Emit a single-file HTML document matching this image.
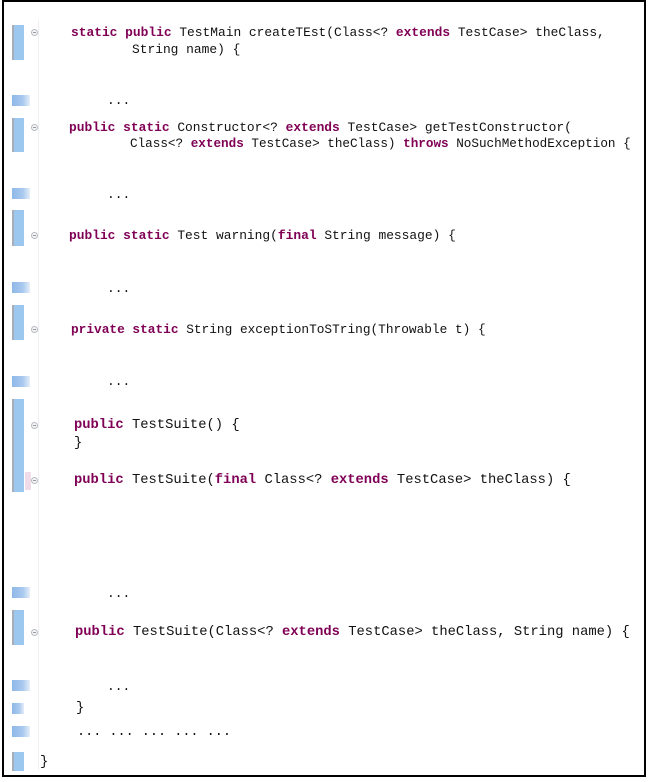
<!DOCTYPE html>
<html><head><meta charset="utf-8"><style>
html,body{margin:0;padding:0;background:#fff;}
body{width:651px;height:782px;position:relative;overflow:hidden;}
.frame{position:absolute;left:2px;top:0px;width:640px;height:773px;border:2px solid #000;box-sizing:content-box;border-width:2px;}
.t{position:absolute;font-family:"Liberation Mono",monospace;font-size:12.9px;line-height:16px;color:#111;white-space:pre;}
.b{font-size:13.8px;}
.k{color:#7f0055;font-weight:bold;}
.bar{position:absolute;left:12px;width:12px;background:#9cc8f0;border-left:2px solid #a8aeb8;box-sizing:border-box;}
.sm{position:absolute;left:12px;width:18px;height:11px;background:linear-gradient(90deg,#8fb8e8 0,#a9c9ef 60%,#e6eef8 100%);}
.fold{position:absolute;left:31px;width:7px;height:7px;border:1px solid #b8bcc4;border-radius:50%;box-sizing:border-box;background:#f4f5f7;}
.fold:after{content:"";position:absolute;left:1px;top:2px;width:3px;height:1px;background:#999;}
.gl{position:absolute;left:38px;top:20px;width:1px;height:750px;background:#f0f0f0;}
</style></head><body>
<div class="frame"></div>
<div class="gl"></div>

<div class="bar" style="top:25px;height:35px"></div><div class="fold" style="top:29px"></div>
<div class="sm" style="top:95px"></div>
<div class="bar" style="top:118px;height:34px"></div><div class="fold" style="top:124px"></div>
<div class="sm" style="top:188px"></div>
<div class="bar" style="top:210px;height:36px"></div><div class="fold" style="top:232px"></div>
<div class="sm" style="top:282px"></div>
<div class="bar" style="top:305px;height:35px"></div><div class="fold" style="top:326px"></div>
<div class="sm" style="top:376px"></div>
<div class="bar" style="top:399px;height:93px"></div>
<div style="position:absolute;left:25px;top:472px;width:6px;height:18px;background:#f0dce8"></div>
<div class="fold" style="top:422px"></div><div class="fold" style="top:477px"></div>
<div class="sm" style="top:587px"></div>
<div class="bar" style="top:610px;height:35px"></div><div class="fold" style="top:629px"></div>
<div class="sm" style="top:680px"></div>
<div class="sm" style="top:703px;width:12px"></div>
<div class="sm" style="top:726px"></div>
<div class="bar" style="top:752px;height:19px"></div>

<div class="t" style="left:71px;top:25px"><span class="k">static public</span> TestMain createTEst(Class&lt;? <span class="k">extends</span> TestCase&gt; theClass,</div>
<div class="t" style="left:132px;top:42px">String name) {</div>
<div class="t" style="left:107px;top:93px">...</div>
<div class="t" style="left:69px;top:120px"><span class="k">public static</span> Constructor&lt;? <span class="k">extends</span> TestCase&gt; getTestConstructor(</div>
<div class="t" style="left:130px;top:136px;font-size:12.65px"><span>Class&lt;? </span><span class="k">extends</span> TestCase&gt; theClass) <span class="k">throws</span> NoSuchMethodException {</div>
<div class="t" style="left:107px;top:187px">...</div>
<div class="t" style="left:69px;top:228px"><span class="k">public static</span> Test warning(<span class="k">final</span> String message) {</div>
<div class="t" style="left:107px;top:281px">...</div>
<div class="t" style="left:71px;top:322px;font-size:12.8px"><span class="k">private static</span> String exceptionToSTring(Throwable t) {</div>
<div class="t" style="left:107px;top:374px">...</div>
<div class="t b" style="left:74px;top:418px"><span class="k">public</span> TestSuite() {</div>
<div class="t b" style="left:74px;top:436px">}</div>
<div class="t b" style="left:74px;top:473px"><span class="k">public</span> TestSuite(<span class="k">final</span> Class&lt;? <span class="k">extends</span> TestCase&gt; theClass) {</div>
<div class="t" style="left:107px;top:586px">...</div>
<div class="t b" style="left:75px;top:625px"><span class="k">public</span> TestSuite(Class&lt;? <span class="k">extends</span> TestCase&gt; theClass, String name) {</div>
<div class="t" style="left:107px;top:679px">...</div>
<div class="t b" style="left:76px;top:701px">}</div>
<div class="t" style="left:77px;top:725px;font-size:13.5px">... ... ... ... ...</div>
<div class="t b" style="left:40px;top:755px">}</div>
</body></html>
